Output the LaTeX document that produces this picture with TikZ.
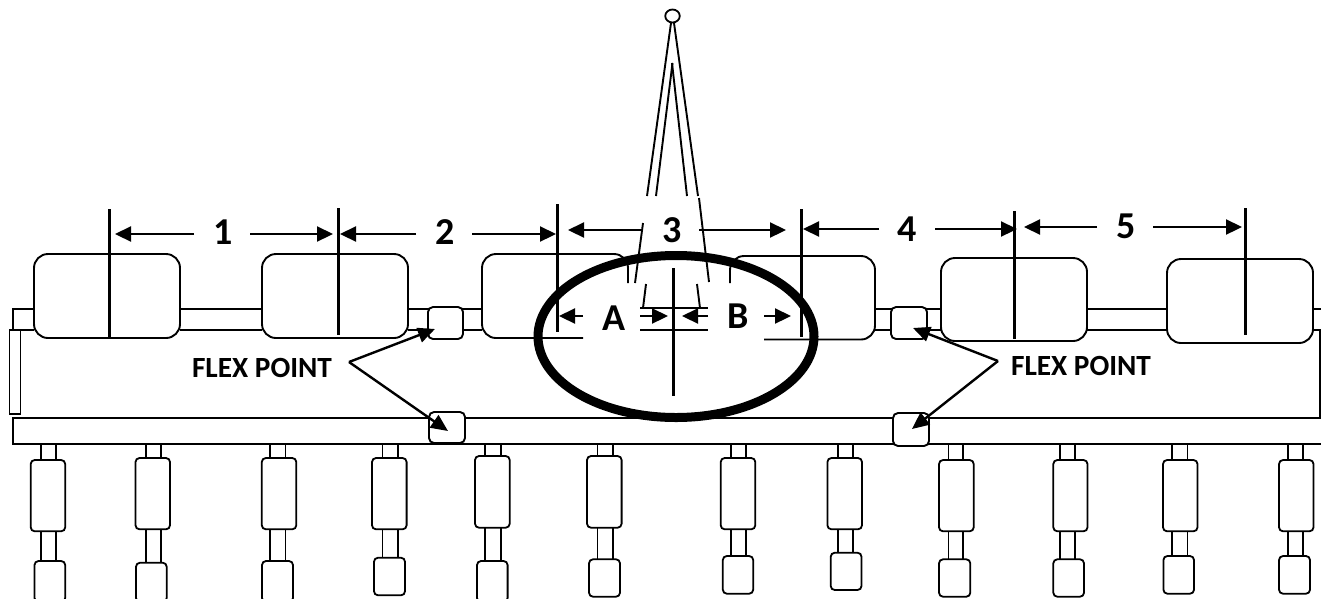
\documentclass[tikz,border=0pt]{standalone}
\usepackage{fontspec}
\setmainfont{Carlito}
\usetikzlibrary{arrows.meta,shapes.geometric}
\tikzset{
  x=1pt,y=-1pt,
  thin line/.style={line width=1.9pt,black},
  body/.style={thin line,fill=white,rounded corners=14pt},
  small/.style={line width=1.8pt,fill=white,rounded corners=4pt},
  rod/.style={line width=1.7pt},
  tick/.style={line width=3pt},
  dim/.style={line width=2.2pt,-{Triangle[length=16pt,width=15pt]}},
  flex/.style={line width=2.4pt,-{Triangle[length=17pt,width=15pt]}},
  num/.style={font=\bfseries\fontsize{38}{38}\selectfont,inner sep=0pt},
  flexlabel/.style={font=\bfseries\fontsize{29.3}{29.3}\selectfont,inner sep=0pt},
}
\begin{document}
\begin{tikzpicture}
\useasboundingbox (0,0) rectangle (1321,598);
% rails and frame
\draw[thin line] (34,309) -- (13,309) -- (13,330) -- (34,330);
\draw[thin line] (180,309) -- (262,309) (180,330) -- (262,330);
\draw[thin line] (408,309) -- (482,309) (408,330) -- (482,330);
\draw[thin line] (875,309) -- (941,309) (875,330) -- (941,330);
\draw[thin line] (1087,309) -- (1167,309) (1087,330) -- (1167,330);
\draw[thin line] (1313,309) -- (1321,309) (1313,330) -- (1320,330) -- (1320,418);
\draw[thin line,fill=white] (9.5,330) rectangle (20.5,414);
\draw[thin line] (1321,418) -- (13,418) -- (13,444) -- (1321,444);
% legs
\foreach \ul/\ur/\ut/\ub/\sl/\sr/\ll/\lr/\lt/\lb in {
 30.7/65.2/460/531.3/41.2/56/34.5/65.2/561/602,
 135.5/170/458/529.3/146/161/136/166.7/562.7/602,
 261.8/296.3/458/529.3/270/285.4/262/293/561/602,
 372/406.6/458/529.3/382.6/397.7/374/405/557.7/595.3,
 475/509.7/456/527.7/485/501/477/507.6/561/602,
 587/621.6/456/527.7/597.6/612.8/589/620/559.3/596.7,
 720.7/755.3/458/529.3/730.8/746/722.8/753.2/556/593.7,
 827.4/862/458/529.3/838/853/830.7/861.5/552.7/590,
 939/973.7/460/531.3/948.4/963/939/970.3/559.3/596.7,
 1053.3/1087.5/460/531.3/1060/1075.3/1053.3/1084/559.3/596.7,
 1163/1197.5/460/531.3/1172/1187.4/1163.4/1194/556/593.7,
 1279/1313.5/460/531.3/1287.7/1303/1279/1310/556/593.7}
{
 \draw[rod] (\sl,444) -- (\sl,\ut) (\sr,444) -- (\sr,\ut);
 \draw[rod] (\sl,\ub) -- (\sl,\lt) (\sr,\ub) -- (\sr,\lt);
 \draw[small] (\ul,\ut) rectangle (\ur,\ub);
 \draw[small] (\ll,\lt) rectangle (\lr,\lb);
}
% bodies
\draw[body] (34,254) rectangle (180,338);
\draw[body] (262,254) rectangle (408,338);
\draw[thin line,rounded corners=14pt] (583,338) -- (482,338) -- (482,254) -- (628,254) -- (628,283);
\draw[thin line,rounded corners=14pt] (730,283) -- (730,256) -- (875,256) -- (875,339.5) -- (764,339.5);
\draw[body] (941,258) rectangle (1087,341);
\draw[body] (1167,259) rectangle (1313,343);
% flex points
\node[draw,thin line,fill=white,rounded corners=5pt,minimum width=35pt,minimum height=32pt,inner sep=0pt] (fa) at (445.5,323) {};
\node[draw,thin line,fill=white,rounded corners=5pt,minimum width=36pt,minimum height=31pt,inner sep=0pt] (fb) at (447,427.5) {};
\node[draw,thin line,fill=white,rounded corners=5pt,minimum width=36pt,minimum height=32pt,inner sep=0pt] (fc) at (909,323) {};
\node[draw,thin line,fill=white,rounded corners=5pt,minimum width=36pt,minimum height=33pt,inner sep=0pt] (fd) at (911,429.5) {};
% mast
\node[draw,line width=1.8pt,ellipse,minimum width=14.5pt,minimum height=13pt,inner sep=0pt] (top) at (672.5,16) {};
\draw[thin line] (671,23) -- (647,196) (672.5,63) -- (656,196);
\draw[thin line] (672,63) -- (687,196) (674,23) -- (698,196);
\draw[thin line] (699,198) -- (709,282) (643,223) -- (635,283);
\draw[thin line] (646,284) -- (643,308) (697,284) -- (700,308);
% centre frame
\draw[thin line] (640,308) -- (708,308) (640,330) -- (708,330);
% ticks
\draw[tick] (109,209) -- (109,338);
\draw[tick] (338.5,208) -- (338.5,335);
\draw[tick] (557,204) -- (557,332);
\draw[tick] (801,209) -- (801,337);
\draw[tick] (1014.5,211) -- (1014.5,339);
\draw[tick] (1245,208) -- (1245,335);
\draw[tick] (673,268) -- (673,396);
% ellipse
\node[draw,line width=9pt,ellipse,minimum width=276pt,minimum height=162pt,inner sep=0pt] (ring) at (676,336.5) {};
% dimension arrows
\draw[dim] (194,234) -- (115,234);
\draw[dim] (250,234) -- (333,234);
\draw[dim] (416,234) -- (340,234);
\draw[dim] (472,234) -- (556,234);
\draw[dim] (642,230) -- (568,230);
\draw[dim] (699,230) -- (786,230);
\draw[dim] (879,229) -- (803,229);
\draw[dim] (935,229) -- (1017,229);
\draw[dim] (1097,227) -- (1024,227);
\draw[dim] (1153,227) -- (1242,227);
\draw[dim] (583,316) -- (559,316);
\draw[dim] (640,316) -- (668,316);
\draw[dim] (708,316) -- (682,316);
\draw[dim] (764,316) -- (791,316);
% labels
\node[num] (n1) at (223,232) {1};
\node[num] (n2) at (445,232) {2};
\node[num] (n3) at (672,230) {3};
\node[num] (n4) at (907,229) {4};
\node[num] (n5) at (1126,226) {5};
\node[num] (nA) at (614,318) {A};
\node[num] (nB) at (738,316) {B};
\node[flexlabel] (ll) at (262,368) {FLEX POINT};
\node[flexlabel] (lr) at (1081,366) {FLEX POINT};
% flex arrows
\coordinate (pl) at (349,362);
\coordinate (pr) at (998,361);
\coordinate (ta) at (435,329);
\coordinate (tb) at (448,431);
\coordinate (tc) at (913,328);
\coordinate (td) at (912,429);
\draw[flex] (pl) -- (ta);
\draw[flex] (pl) -- (tb);
\draw[flex] (pr) -- (tc);
\draw[flex] (pr) -- (td);
\end{tikzpicture}
\end{document}
